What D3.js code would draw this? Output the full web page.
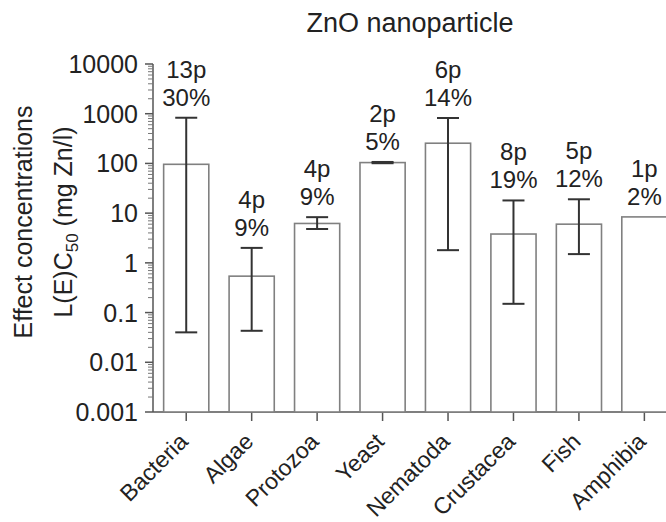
<!DOCTYPE html>
<html>
<head>
<meta charset="utf-8">
<script src="https://cdn.jsdelivr.net/npm/d3@7"></script>
<style>
  body { margin: 0; background: #fff; }
  text { font-family: "Liberation Sans", Arial, sans-serif; fill: #222; }
</style>
</head>
<body>
<div id="main"></div>
<script>
const ctx = {
    w: 666,
    h: 522,
    left: 153,
    step: 65.45,
    top: 64,
    bottom: 412,
};

// data
const groups = ["Bacteria", "Algae", "Protozoa", "Yeast", "Nematoda", "Crustacea", "Fish", "Amphibia"];
const medians = [96, 0.54, 6.2, 104, 255, 3.8, 6.0, 8.4];
const errLow = [0.04, 0.043, 4.8, 101, 1.8, 0.15, 1.5, null];
const errHigh = [830, 2.0, 8.3, 107, 820, 18, 19, null];
const paperCounts = ["13p", "4p", "4p", "2p", "6p", "8p", "5p", "1p"];
const paperShares = ["30%", "9%", "9%", "5%", "14%", "19%", "12%", "2%"];
const yTicks = [0.001, 0.01, 0.1, 1, 10, 100, 1000, 10000];

function createViz(){
    let svg = d3.select("#main").append("svg")
        .attr("width", ctx.w)
        .attr("height", ctx.h);

    let x = d3.scaleBand()
        .domain(groups)
        .range([ctx.left + 0.5, ctx.left + 0.5 + ctx.step * groups.length])
        .paddingInner(0.31)
        .paddingOuter(0.155);

    let y = d3.scaleLog()
        .domain([0.001, 10000])
        .range([ctx.bottom, ctx.top]);

    // minor ticks 2..9 in every decade
    let minor = [];
    for (let i = 0; i < yTicks.length - 1; i++){
        for (let k = 2; k <= 9; k++){ minor.push(yTicks[i] * k); }
    }

    let yAxis = svg.append("g").attr("transform", "translate(" + ctx.left + ",0)");
    yAxis.append("line")
        .attr("x1", 0).attr("x2", 0)
        .attr("y1", y(10000)).attr("y2", y(0.001))
        .attr("stroke", "#555").attr("stroke-width", 1.5);
    yAxis.selectAll("line.minor")
        .data(minor)
        .enter()
        .append("line")
        .attr("class", "minor")
        .attr("x1", -5).attr("x2", 0)
        .attr("y1", d => y(d)).attr("y2", d => y(d))
        .attr("stroke", "#777").attr("stroke-width", 1);
    yAxis.selectAll("line.major")
        .data(yTicks)
        .enter()
        .append("line")
        .attr("class", "major")
        .attr("x1", -8).attr("x2", 0)
        .attr("y1", d => y(d)).attr("y2", d => y(d))
        .attr("stroke", "#555").attr("stroke-width", 1.5);
    yAxis.selectAll("text")
        .data(yTicks)
        .enter()
        .append("text")
        .attr("x", -15)
        .attr("y", d => y(d))
        .attr("dy", "0.36em")
        .attr("text-anchor", "end")
        .style("font-size", "25px")
        .text(d => d3.format("~f")(d));

    // x axis
    let xAxis = svg.append("g");
    xAxis.append("line")
        .attr("x1", ctx.left).attr("x2", ctx.w)
        .attr("y1", ctx.bottom).attr("y2", ctx.bottom)
        .attr("stroke", "#555").attr("stroke-width", 1.5);
    xAxis.selectAll("line.tick")
        .data(groups)
        .enter()
        .append("line")
        .attr("class", "tick")
        .attr("x1", d => x(d) + x.bandwidth() / 2)
        .attr("x2", d => x(d) + x.bandwidth() / 2)
        .attr("y1", ctx.bottom).attr("y2", ctx.bottom + 9)
        .attr("stroke", "#555").attr("stroke-width", 1.5);
    xAxis.selectAll("text")
        .data(groups)
        .enter()
        .append("text")
        .attr("transform", d => "translate(" + (x(d) + x.bandwidth() / 2 + 3) + "," + (ctx.bottom + 31) + ") rotate(-45)")
        .attr("text-anchor", "end")
        .style("font-size", "23px")
        .text(d => d);

    // bars
    let bars = svg.append("g").attr("id", "bars");
    bars.selectAll("rect")
        .data(groups)
        .enter()
        .append("rect")
        .attr("x", d => x(d))
        .attr("width", x.bandwidth())
        .attr("y", (d, i) => y(medians[i]))
        .attr("height", (d, i) => ctx.bottom - y(medians[i]))
        .attr("fill", "white")
        .attr("stroke", "#808080")
        .attr("stroke-width", 1.6);

    // error bars
    let errs = svg.append("g").attr("id", "errors");
    groups.forEach(function(g, i){
        if (errLow[i] === null){ return; }
        let cx = x(g) + x.bandwidth() / 2;
        errs.append("line")
            .attr("x1", cx).attr("x2", cx)
            .attr("y1", y(errLow[i])).attr("y2", y(errHigh[i]))
            .attr("stroke", "#333").attr("stroke-width", 2);
        [errLow[i], errHigh[i]].forEach(function(v){
            errs.append("line")
                .attr("x1", cx - 11).attr("x2", cx + 11)
                .attr("y1", y(v)).attr("y2", y(v))
                .attr("stroke", "#333").attr("stroke-width", 2);
        });
    });

    // paper counts above each bar
    let labels = svg.append("g").attr("id", "labels");
    groups.forEach(function(g, i){
        let cx = x(g) + x.bandwidth() / 2;
        let topY = y(errHigh[i] === null ? medians[i] : errHigh[i]);
        labels.append("text")
            .attr("x", cx).attr("y", topY - 40)
            .attr("text-anchor", "middle")
            .style("font-size", "24px")
            .text(paperCounts[i]);
        labels.append("text")
            .attr("x", cx).attr("y", topY - 12)
            .attr("text-anchor", "middle")
            .style("font-size", "24px")
            .text(paperShares[i]);
    });

    // title
    svg.append("text")
        .attr("x", 410).attr("y", 32)
        .attr("text-anchor", "middle")
        .style("font-size", "27px")
        .text("ZnO nanoparticle");

    // y label, two lines
    let ylab = svg.append("g").attr("transform", "translate(0,222) rotate(-90)");
    ylab.append("text")
        .attr("x", 0).attr("y", 32)
        .attr("text-anchor", "middle")
        .style("font-size", "25px")
        .text("Effect concentrations");
    let l2 = ylab.append("text")
        .attr("x", 0).attr("y", 72)
        .attr("text-anchor", "middle")
        .style("font-size", "25px");
    l2.append("tspan").text("L(E)C");
    l2.append("tspan").attr("dy", 6).style("font-size", "17px").text("50");
    l2.append("tspan").attr("dy", -6).text(" (mg Zn/l)");
}

createViz();
</script>
</body>
</html>
